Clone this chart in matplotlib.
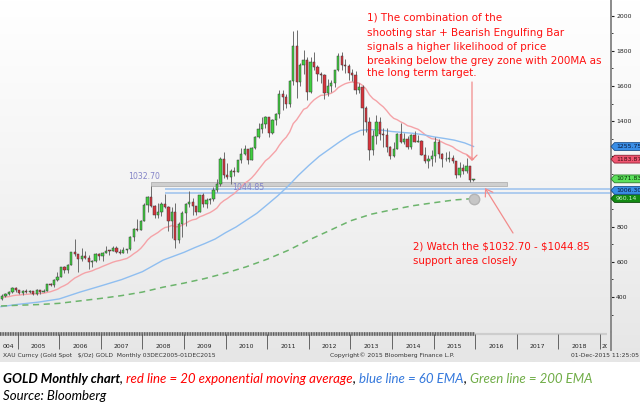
import matplotlib
matplotlib.use("Agg")
import matplotlib.pyplot as plt
import numpy as np
from matplotlib.patches import Polygon, Rectangle, FancyArrowPatch
from matplotlib.colors import LinearSegmentedColormap

# ---------------- data ----------------
start_year, start_month = 2004, 8   # first monthly candle: Aug 2004, last: Dec 2015

opens = [391.4, 407.3, 415.7, 428.6, 453.4,
         438.0, 422.2, 434.5, 427.5, 435.7, 417.3, 437.1, 429.0, 433.3, 473.3, 470.8, 495.7,
         513.0, 568.8, 556.0, 582.0, 654.5, 643.2, 613.5, 632.5, 623.5, 599.3, 603.8, 646.7,
         632.0, 650.5, 664.2, 661.8, 679.4, 658.2, 650.5, 665.5, 672.0, 743.0, 789.5, 783.5,
         833.8, 923.3, 971.5, 916.2, 865.0, 885.8, 928.3, 912.5, 832.5, 884.5, 724.0, 814.5,
         878.2, 927.3, 942.0, 916.5, 883.3, 979.5, 926.4, 954.0, 955.5, 1007.7, 1040.3, 1182.0,
         1096.2, 1081.0, 1118.3, 1113.3, 1179.3, 1212.5, 1244.0, 1181.0, 1248.0, 1307.5, 1357.6, 1386.1,
         1421.4, 1332.8, 1409.3, 1439.0, 1556.0, 1536.5, 1500.4, 1628.3, 1826.0, 1620.4, 1722.0, 1746.4,
         1564.9, 1737.0, 1709.6, 1668.9, 1663.4, 1558.0, 1598.5, 1614.9, 1691.0, 1772.1, 1719.1, 1712.7,
         1675.4, 1662.9, 1578.5, 1597.0, 1472.1, 1393.6, 1234.6, 1313.0, 1395.9, 1326.5, 1323.6, 1250.6,
         1201.6, 1244.5, 1326.5, 1283.8, 1295.9, 1250.5, 1322.0, 1282.9, 1287.3, 1208.2, 1171.6, 1182.7,
         1199.3, 1279.0, 1213.0, 1183.7, 1182.8, 1190.6, 1172.4, 1095.2, 1132.5, 1115.1, 1142.2, 1065.3]
highs = [414.8, 420.4, 432.9, 456.8, 456.8,
         439.0, 437.2, 446.0, 438.1, 436.0, 443.8, 438.6, 447.5, 476.1, 478.2, 500.6, 540.9,
         573.2, 575.2, 585.0, 655.0, 730.4, 644.5, 679.4, 663.5, 636.7, 608.6, 649.3, 648.8,
         658.5, 691.4, 670.0, 692.8, 689.9, 673.0, 682.4, 675.0, 745.0, 795.0, 845.4, 838.0,
         934.2, 975.2, 1032.7, 925.7, 932.7, 941.2, 988.5, 918.0, 912.7, 933.9, 825.0, 888.5,
         933.1, 1005.4, 965.0, 917.5, 980.5, 989.3, 960.5, 965.0, 1024.2, 1070.4, 1195.1, 1226.6,
         1161.8, 1127.6, 1138.3, 1180.4, 1249.0, 1265.3, 1244.2, 1251.3, 1313.2, 1387.1, 1424.3, 1431.1,
         1424.4, 1411.5, 1447.4, 1575.8, 1577.6, 1556.4, 1632.4, 1911.5, 1920.9, 1730.3, 1803.8, 1764.3,
         1764.9, 1790.7, 1720.9, 1676.9, 1667.4, 1640.1, 1633.0, 1693.0, 1787.0, 1795.8, 1754.4, 1723.6,
         1695.0, 1687.4, 1616.9, 1605.4, 1487.9, 1424.3, 1348.5, 1433.8, 1424.6, 1361.2, 1361.1, 1260.6,
         1280.0, 1332.1, 1392.1, 1331.9, 1315.4, 1325.9, 1345.2, 1322.2, 1290.6, 1255.4, 1206.0, 1238.8,
         1307.8, 1295.8, 1219.5, 1224.5, 1232.7, 1205.1, 1174.5, 1170.2, 1156.8, 1191.7, 1142.2, 1073.0]
lows = [384.6, 399.0, 410.9, 424.8, 430.4,
        418.5, 411.2, 424.6, 421.2, 414.0, 413.6, 414.5, 429.0, 433.3, 462.3, 456.7, 488.4,
        513.0, 538.0, 535.0, 581.3, 633.5, 542.0, 606.4, 613.3, 560.8, 569.7, 600.0, 608.2,
        602.3, 648.0, 636.7, 661.0, 649.8, 642.1, 649.2, 648.5, 670.0, 721.0, 775.0, 782.2,
        833.0, 880.8, 913.6, 850.8, 850.1, 859.7, 908.1, 775.8, 735.6, 681.0, 705.0, 743.9,
        802.6, 913.6, 865.0, 865.0, 881.5, 912.0, 904.3, 931.1, 945.6, 997.5, 1033.5, 1075.0,
        1072.6, 1044.5, 1088.5, 1113.0, 1160.0, 1206.0, 1155.8, 1179.8, 1241.6, 1307.0, 1331.0, 1360.0,
        1308.8, 1326.0, 1381.0, 1418.7, 1462.0, 1476.8, 1478.7, 1603.0, 1534.5, 1600.0, 1669.4, 1522.7,
        1560.2, 1688.3, 1627.0, 1616.1, 1526.7, 1540.3, 1564.3, 1591.7, 1683.0, 1692.2, 1672.0, 1635.2,
        1626.3, 1554.6, 1562.8, 1321.4, 1337.8, 1180.5, 1207.8, 1271.5, 1292.5, 1251.0, 1221.8, 1182.5,
        1198.0, 1240.4, 1277.8, 1268.0, 1240.6, 1240.2, 1282.1, 1280.2, 1206.5, 1161.5, 1131.9, 1142.9,
        1167.3, 1191.2, 1142.1, 1175.6, 1170.3, 1162.4, 1077.0, 1080.8, 1098.8, 1106.4, 1052.5, 1060.5]
closes = [407.3, 415.7, 428.6, 453.4, 438.0,
          422.2, 434.5, 427.5, 435.7, 417.3, 437.1, 429.0, 433.3, 473.3, 470.8, 495.7, 513.0,
          568.8, 556.0, 582.0, 654.5, 643.2, 613.5, 632.5, 623.5, 599.3, 603.8, 646.7, 632.0,
          650.5, 664.2, 661.8, 679.4, 658.2, 650.5, 665.5, 672.0, 743.0, 789.5, 783.5, 833.8,
          923.3, 971.5, 916.2, 865.0, 885.8, 928.3, 912.5, 832.5, 884.5, 724.0, 814.5, 878.2,
          927.3, 942.0, 916.5, 883.3, 979.5, 926.4, 954.0, 955.5, 1007.7, 1040.3, 1182.0, 1096.2,
          1081.0, 1118.3, 1113.3, 1179.3, 1212.5, 1244.0, 1181.0, 1248.0, 1307.5, 1357.6, 1386.1, 1421.4,
          1332.8, 1409.3, 1439.0, 1556.0, 1536.5, 1500.4, 1628.3, 1826.0, 1620.4, 1722.0, 1746.4, 1564.9,
          1737.0, 1709.6, 1668.9, 1663.4, 1558.0, 1598.5, 1614.9, 1691.0, 1772.1, 1719.1, 1712.7, 1675.4,
          1662.9, 1578.5, 1597.0, 1472.1, 1393.6, 1234.6, 1313.0, 1395.9, 1326.5, 1323.6, 1250.6, 1201.6,
          1244.5, 1326.5, 1283.8, 1295.9, 1250.5, 1322.0, 1282.9, 1287.3, 1208.2, 1171.6, 1182.7, 1199.3,
          1279.0, 1213.0, 1183.7, 1182.8, 1190.6, 1172.4, 1095.2, 1132.5, 1115.1, 1142.2, 1065.3, 1071.8]

# 20-month EMA (red), one value per candle
ema20 = [398, 400, 402, 407, 410,
         411, 414, 415, 417, 417, 419, 420, 421, 426, 430, 437, 444,
         456, 465, 476, 493, 508, 518, 529, 538, 543, 549, 558, 565,
         574, 582, 590, 598, 604, 608, 614, 619, 631, 646, 659, 676,
         699, 725, 743, 755, 767, 783, 795, 799, 807, 799, 800, 808,
         819, 831, 839, 843, 856, 863, 872, 880, 892, 906, 932, 948,
         960, 975, 988, 1007, 1026, 1047, 1060, 1077, 1099, 1124, 1149, 1175,
         1190, 1211, 1232, 1263, 1289, 1309, 1339, 1386, 1408, 1438, 1467, 1476,
         1501, 1521, 1535, 1547, 1548, 1553, 1559, 1571, 1591, 1603, 1613, 1619,
         1623, 1619, 1617, 1603, 1583, 1550, 1528, 1515, 1497, 1481, 1459, 1434,
         1416, 1408, 1396, 1387, 1374, 1369, 1361, 1354, 1340, 1324, 1310, 1300,
         1298, 1290, 1280, 1270, 1263, 1254, 1239, 1229, 1218, 1211, 1197, 1184]

# 60 EMA (blue), read every half year then every quarter
ema60_t = [2004.6, 2005.0, 2005.5, 2006.0, 2006.5, 2007.0, 2007.5, 2008.0, 2008.5, 2009.0,
           2009.25, 2009.5, 2009.75, 2010.0, 2010.25, 2010.5, 2010.75, 2011.0, 2011.25, 2011.5,
           2011.75, 2012.0, 2012.25, 2012.5, 2012.75, 2013.0, 2013.25, 2013.5, 2013.75, 2014.0,
           2014.25, 2014.5, 2014.75, 2015.0, 2015.25, 2015.5, 2015.75, 2015.96]
ema60 = [345, 358, 371, 389, 428, 463, 499, 544, 610, 654,
         680, 704, 730, 766, 798, 837, 876, 925, 975, 1030,
         1092, 1148, 1200, 1242, 1284, 1322, 1348, 1352, 1349, 1341,
         1336, 1331, 1323, 1311, 1302, 1292, 1276, 1256]

# 200 EMA (green), read every half year
ema200_t = [2004.6, 2005.0, 2005.5, 2006.0, 2006.5, 2007.0, 2007.5, 2008.0, 2008.5, 2009.0,
            2009.5, 2010.0, 2010.5, 2011.0, 2011.5, 2012.0, 2012.5, 2013.0, 2013.5, 2014.0,
            2014.5, 2015.0, 2015.5, 2015.96]
ema200 = [349, 353, 357, 364, 378, 392, 408, 428, 456, 479, 505, 536, 572, 615, 665, 724,
          778, 833, 871, 896, 919, 936, 952, 960]

level_high = 1032.70      # grey zone (Mar 2008 high)
level_high_top = 1052.0
level_low = 1044.85
level_blue = [1012.0, 994.0]

tag_values = [("960.14", 960.14), ("1006.30", 1006.30), ("1071.83", 1071.83),
              ("1183.87", 1183.87), ("1255.75", 1255.75)]

# year labels as they appear on the strip (first one is cut to "004" in the chart)
year_labels = ["004"] + [str(v) for v in range(2005, 2020)]
price_ticks = [400, 600, 800, 1000, 1200, 1400, 1600, 1800, 2000]
hidden_tick_labels = [1000, 1200]   # covered by the price tags

note1 = ["1) The combination of the",
         "shooting star + Bearish Engulfing Bar",
         "signals a higher likelihood of price",
         "breaking below the grey zone with 200MA as",
         "the long term target."]
note2 = ["2) Watch the $1032.70 - $1044.85", "support area closely"]

# ---------------- figure ----------------
W, H = 640, 404
fig = plt.figure(figsize=(W / 100, H / 100), dpi=100)
fig.patch.set_facecolor("white")

def fx(p): return p / W
def fy(p): return 1 - p / H

# background gradient of the terminal panel
bg = fig.add_axes([0, fy(362), 1, 362 / H], zorder=0)
cm = LinearSegmentedColormap.from_list("g", ["#ffffff", "#f4f4f4", "#e6e6e6"])
bg.imshow(np.linspace(0, 1, 256)[:, None], aspect="auto", cmap=cm,
          extent=[0, 1, 0, 1], origin="upper")
bg.set_xlim(0, 1); bg.set_ylim(0, 1); bg.axis("off")

# x mapping: 2005 starts at px 17.6, one year = 41.6 px
X0 = 2005 + (0 - 17.6) / 41.6
X1 = 2005 + (611 - 17.6) / 41.6

ax = fig.add_axes([0, fy(332), fx(611), 332 / H], zorder=2)
ax.patch.set_alpha(0)
ax.set_xlim(X0, X1)
ax.set_ylim(201, 2089)
for s in ["top", "left", "bottom"]:
    ax.spines[s].set_visible(False)
ax.spines["right"].set_color("#8a8a8a")
ax.spines["right"].set_linewidth(1.4)
ax.set_xticks([])
ax.yaxis.tick_right()
ax.set_yticks(price_ticks)
ax.set_yticklabels(["" if v in hidden_tick_labels else str(v) for v in price_ticks])
ax.set_yticks(list(range(300, 2100, 100)), minor=True)
ax.tick_params(axis="y", which="major", length=2.5, width=0.8, pad=1.2,
               labelsize=4.4, colors="#222222")
ax.tick_params(axis="y", which="minor", length=1.5, width=0.6, colors="#222222")

# candles
xs = []
y, m = start_year, start_month
for _ in closes:
    xs.append(y + (m - 0.5) / 12)
    m += 1
    if m > 12:
        m, y = 1, y + 1
xs = np.array(xs)
o = np.array(opens); c = np.array(closes)
hi = np.array(highs); lo = np.array(lows)

ax.vlines(xs, lo, hi, color="#6c6c6c", lw=0.7, zorder=4)
bottom = np.minimum(o, c)
height = np.maximum(np.abs(c - o), 3.5)
cols = ["#3fcf3f" if cc >= oo else "#d8343c" for oo, cc in zip(o, c)]
ax.bar(xs, height, bottom=bottom, width=0.056, color=cols, edgecolor="#3a3a3a",
       linewidth=0.35, zorder=5)

# moving averages
ax.plot(xs, ema20, color="#f5a3a8", lw=1.0, zorder=3)
ax.plot(ema60_t, ema60, color="#8fbef0", lw=1.0, zorder=3)
ax.plot(ema200_t, ema200, color="#6cb46c", lw=1.1, dashes=(4, 3), zorder=3)
ax.plot([ema200_t[-1]], [ema200[-1]], "o", ms=7.5, color="#c6c6c6",
        markeredgecolor="#b4b4b4", zorder=6)

# support levels
g_start = xs[2008 * 12 + 3 - (start_year * 12 + start_month)]   # Mar 2008
b_start = xs[2008 * 12 + 7 - (start_year * 12 + start_month)]   # Jul 2008
g_end = 2005 + (507 - 17.6) / 41.6
ax.add_patch(Rectangle((g_start, level_high), g_end - g_start, level_high_top - level_high,
                       facecolor="#cfcfcf", edgecolor="#b2b2b2", lw=0.6, zorder=2.5))
ax.hlines(level_blue, b_start, X1, color="#a8c8ee", lw=1.3, zorder=2.5)
ax.text(2008.04, 1088, "%.2f" % level_high, fontsize=5.6, color="#8484c8",
        ha="center", va="center", zorder=7)
ax.text(2010.54, 1020, "%.2f" % level_low, fontsize=5.6, color="#8484c8",
        ha="center", va="center", zorder=7)

# annotations
for i, line in enumerate(note1):
    fig.text(fx(367), fy([21, 35.5, 49.5, 63.5, 76.5][i]), line, fontsize=7.5,
             color="#ff1010", ha="left", va="baseline", zorder=12, parse_math=False)
for i, line in enumerate(note2):
    fig.text(fx(413), fy([249.5, 263.5][i]), line, fontsize=7.4,
             color="#ff1010", ha="left", va="baseline", zorder=12, parse_math=False)

def arrow(p0, p1, hl, hw):
    a = FancyArrowPatch((fx(p0[0]), fy(p0[1])), (fx(p1[0]), fy(p1[1])),
                        transform=fig.transFigure,
                        arrowstyle="->,head_length=%g,head_width=%g" % (hl, hw),
                        mutation_scale=8, color="#f28c8c", lw=0.9,
                        shrinkA=0, shrinkB=0, zorder=12)
    fig.add_artist(a)

arrow((472, 82), (472, 161), 0.45, 0.45)
arrow((513, 233), (485, 188), 0.6, 0.4)

# price tags on the right
tag_style = {"960.14": ("#138a13", "#0a4a0a", "#c8f0c8"),
             "1006.30": ("#3a8ee6", "#1c4f8a", "#08183a"),
             "1071.83": ("#5ce05c", "#2a7a2a", "#063006"),
             "1183.87": ("#ef5570", "#8a1f30", "#3a0a10"),
             "1255.75": ("#3a8ee6", "#1c4f8a", "#08183a")}
for label, val in tag_values:
    face, edge, tc = tag_style[label]
    yc = ax.transData.transform((X1, val))[1]
    hh = 3.9
    pts = [(611, yc), (614.5, yc + hh), (641, yc + hh), (641, yc - hh), (614.5, yc - hh)]
    fig.add_artist(Polygon([(px / W, py / H) for px, py in pts], closed=True,
                           transform=fig.transFigure, facecolor=face, edgecolor=edge,
                           lw=0.6, zorder=10))
    fig.text(616 / W, yc / H, label, fontsize=4.4, color=tc, ha="left", va="center",
             zorder=11)

# date strip below the plot
st = fig.add_axes([0, fy(362), fx(607), 30 / H], zorder=3)
st.patch.set_alpha(0)
st.set_xlim(X0, 2005 + (607 - 17.6) / 41.6)
st.set_ylim(362, 332)
st.axis("off")
x_end = xs[-1] + 1 / 24
st.hlines(333.5, X0, x_end, color="#b4b4b4", lw=2.6)
st.hlines(333.5, X0, x_end, color="#5e5e5e", lw=2.6, linestyles=(0, (0.35, 0.35)))
st.hlines(333.5, x_end, X1, color="#cdcdcd", lw=1.6)
st.vlines(range(2005, 2020), 334, 349, color="#505050", lw=0.6)
for i, lab in enumerate(year_labels):
    yr = 2004 + i
    if yr == 2004:
        st.text(2005 + (2.5 - 17.6) / 41.6, 346.5, lab, fontsize=4.4, color="#222222",
                ha="left", va="center")
        continue
    xpos = 2005 + (609 - 17.6) / 41.6 if yr == 2019 else yr + 0.5
    st.text(xpos, 346.5, lab, fontsize=4.4, color="#222222", ha="center",
            va="center", clip_on=True)
fig.add_artist(plt.Line2D([fx(611), fx(611)], [fy(332), fy(350)], color="#8a8a8a",
                          lw=1.4, transform=fig.transFigure, zorder=4))

fig.text(fx(3), fy(355.5), "XAU Curncy (Gold Spot   $/Oz) GOLD  Monthly 03DEC2005-01DEC2015",
         fontsize=4.3, color="#333333", ha="left", va="center", parse_math=False)
fig.text(fx(392), fy(355.5), "Copyright\u00a9 2015 Bloomberg Finance L.P.", fontsize=4.3,
         color="#333333", ha="center", va="center")
fig.text(fx(639), fy(355.5), "01-Dec-2015 11:25:05", fontsize=4.3, color="#333333",
         ha="right", va="center")

# caption below the terminal picture
pieces = [("GOLD Monthly chart", "bold", "#000000"),
          (", ", "normal", "#000000"),
          ("red line = 20 exponential moving average", "normal", "#ff0000"),
          (", ", "normal", "#000000"),
          ("blue line = 60 EMA", "normal", "#3478dc"),
          (", ", "normal", "#000000"),
          ("Green line = 200 EMA", "normal", "#70ad47")]
renderer = fig.canvas.get_renderer()

def draw_caption(fs):
    arts = []
    x = 3.0
    for txt, wt, col in pieces:
        t = fig.text(fx(x), fy(383), txt, fontsize=fs, fontweight=wt, fontstyle="italic",
                     family=["Lato", "DejaVu Sans"], color=col, ha="left", va="baseline")
        bb = t.get_window_extent(renderer=renderer)
        x += bb.width
        arts.append(t)
    return arts, x - 3.0

arts, width = draw_caption(10)
for a in arts:
    a.remove()
fs = 10 * 592 / width
draw_caption(fs)
fig.text(fx(3), fy(400), "Source: Bloomberg", fontsize=fs, fontstyle="italic",
         family=["Lato", "DejaVu Sans"], color="#000000", ha="left", va="baseline")

fig.savefig("out.png", dpi=100, facecolor="white")
